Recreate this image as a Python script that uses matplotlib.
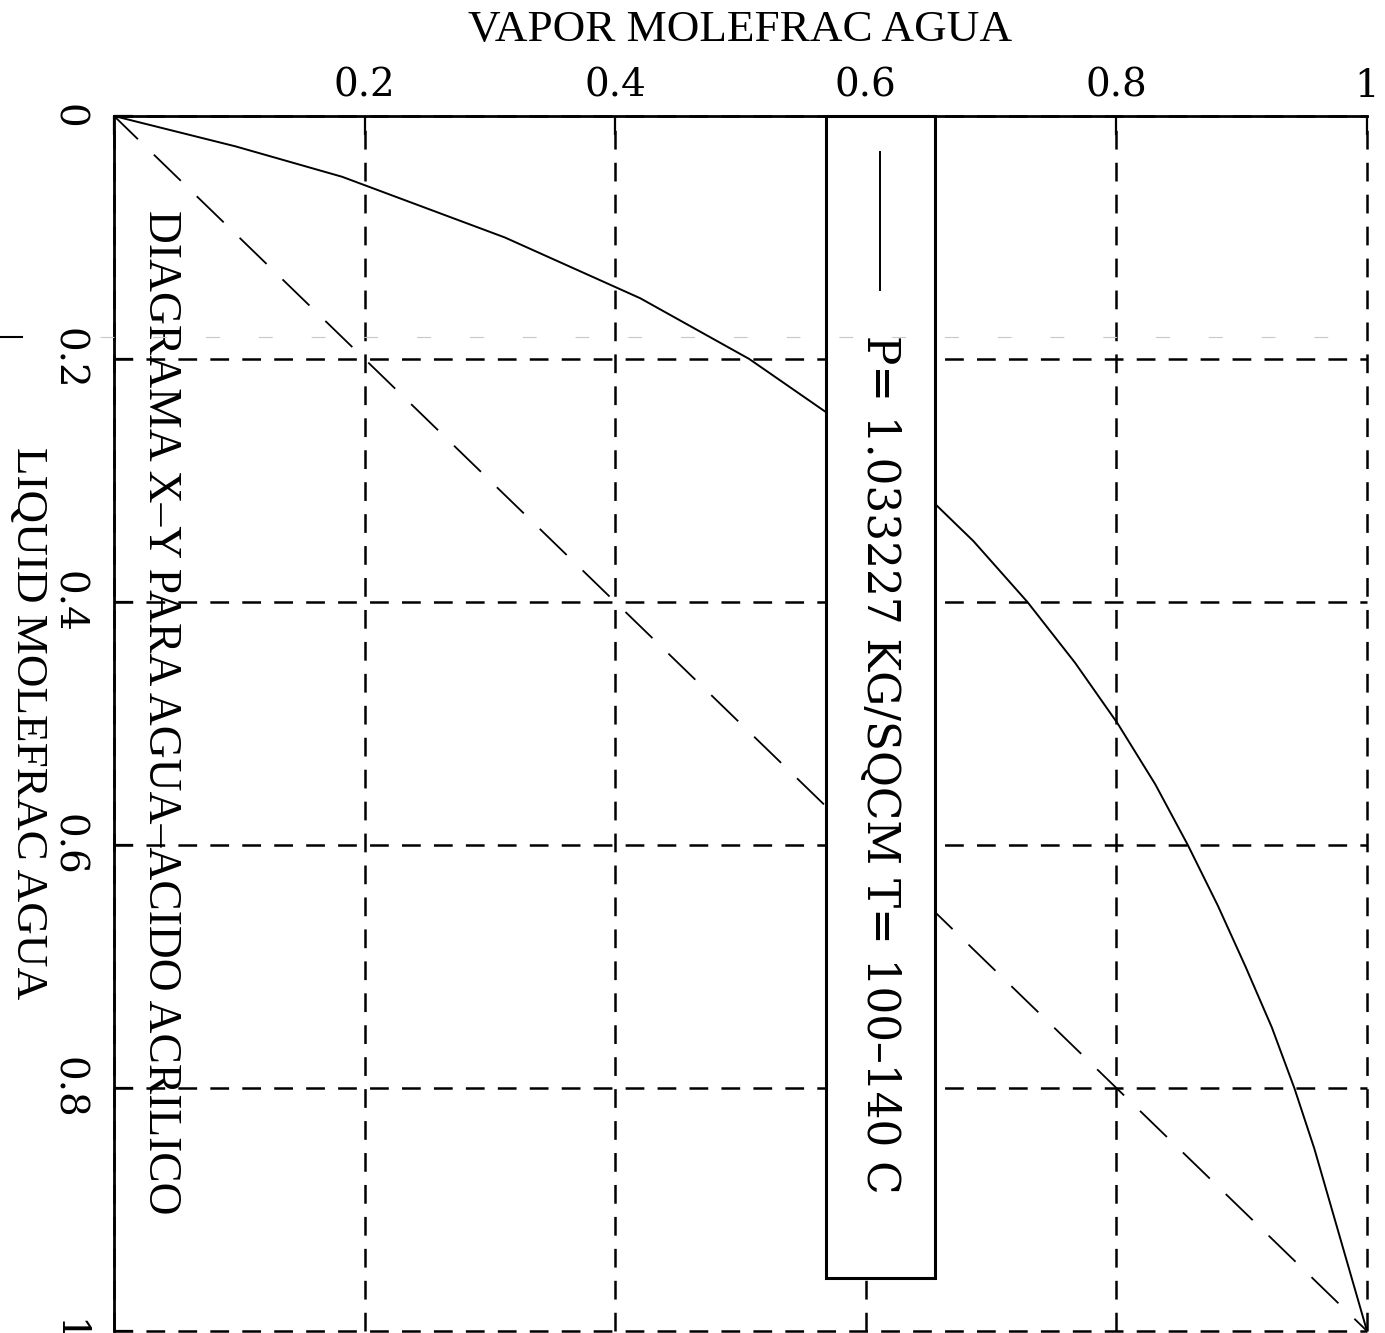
import matplotlib
matplotlib.use("Agg")
import matplotlib.pyplot as plt
from matplotlib.patches import Rectangle
from matplotlib.lines import Line2D

plt.rcParams['font.family'] = ['Liberation Serif', 'DejaVu Serif']
plt.rcParams['lines.scale_dashes'] = False

# Equilibrium data: water mole fraction in liquid and in vapour
liquid_x = [0.0, 0.025, 0.05, 0.10, 0.15, 0.20, 0.25, 0.30, 0.35, 0.40, 0.45,
            0.50, 0.55, 0.60, 0.65, 0.70, 0.75, 0.80, 0.85, 0.90, 0.95, 1.0]
vapor_y = [0.0, 0.097, 0.182, 0.312, 0.420, 0.507, 0.577, 0.636, 0.686, 0.729,
           0.767, 0.801, 0.831, 0.857, 0.881, 0.903, 0.924, 0.942, 0.958, 0.972,
           0.986, 1.0]

# 45-degree reference line
diag = [0.0, 1.0]

ticks = [0.0, 0.2, 0.4, 0.6, 0.8, 1.0]
top_labels = ['', '0.2', '0.4', '0.6', '0.8', '1']
left_labels = ['0', '0.2', '0.4', '0.6', '0.8', '1']

title = 'DIAGRAMA X\u2013Y PARA AGUA\u2013ACIDO ACRILICO'
legend_text = 'P= 1.033227 KG/SQCM T= 100\u2013140 C'

W, H = 1385, 1333
fig = plt.figure(figsize=(W / 100, H / 100), dpi=100)
ax = fig.add_axes([114 / W, 1 - 1331 / H, 1253 / W, (1331 - 116) / H])

ax.set_xlim(0, 1)
ax.set_ylim(1, 0)

# ticks and grid
ax.set_xticks(ticks)
ax.set_yticks(ticks)
ax.xaxis.tick_top()
tick_font = dict(family=['DejaVu Serif'], size=28)
ax.set_xticklabels(top_labels, fontdict=tick_font)
ax.set_yticklabels(left_labels, fontdict=tick_font, rotation=-90,
                   va='center', ha='right')
ax.tick_params(axis='both', direction='in', length=14, width=1.6,
               colors='black')
ax.tick_params(axis='x', pad=8)
ax.tick_params(axis='y', pad=20)
ax.grid(True, color='black', linewidth=1.8, linestyle=(0, (13.5, 9.5)))
for gl in ax.get_xgridlines() + ax.get_ygridlines():
    gl.set_clip_on(False)

for side in ('right', 'bottom'):
    ax.spines[side].set_visible(False)
for side in ('left', 'top'):
    ax.spines[side].set_linewidth(2.0)

# curves
ax.plot(vapor_y, liquid_x, color='black', linewidth=1.4, zorder=3)
ax.plot(diag, diag, color='black', linewidth=1.3,
        linestyle=(3, (27, 16)), zorder=3)

# axis titles
ax.xaxis.set_label_position('top')
ax.set_xlabel('VAPOR MOLEFRAC AGUA', fontsize=32.5)
ax.xaxis.set_label_coords(0.5, 1 + 86 / 1215)
ax.xaxis.label.set_va('center')
ax.set_ylabel('LIQUID MOLEFRAC AGUA', fontsize=32.5, rotation=-90,
              va='center', ha='center')
ax.yaxis.set_label_coords(-86 / 1253, 0.5)

# chart title inside the plot
ax.text(0.037, 0.077, title, rotation=-90, rotation_mode='anchor',
        ha='left', va='center', fontsize=32.8, zorder=2)

# legend box
box = Rectangle((0.568, 0.0), 0.087, 0.956, facecolor='white',
                edgecolor='black', linewidth=2.2, zorder=5, clip_on=False)
ax.add_patch(box)
ax.add_line(Line2D([0.611, 0.611], [0.030, 0.143], color='black',
                   linewidth=1.4, zorder=6))
ax.text(0.611, 0.180, legend_text, rotation=-90, rotation_mode='anchor',
        ha='left', va='center', fontsize=31.5, family=['DejaVu Serif'],
        zorder=6)

# faint scan streak across the sheet
fig.add_artist(Line2D([0, 22 / W], [1 - 337 / H, 1 - 337 / H],
                      color='black', linewidth=1.5))
fig.add_artist(Line2D([100 / W, 1330 / W], [1 - 337 / H, 1 - 337 / H],
                      color='#c8c8c8', linewidth=0.8,
                      linestyle=(0, (10, 28))))

fig.savefig('out.png', dpi=100, facecolor='white')
